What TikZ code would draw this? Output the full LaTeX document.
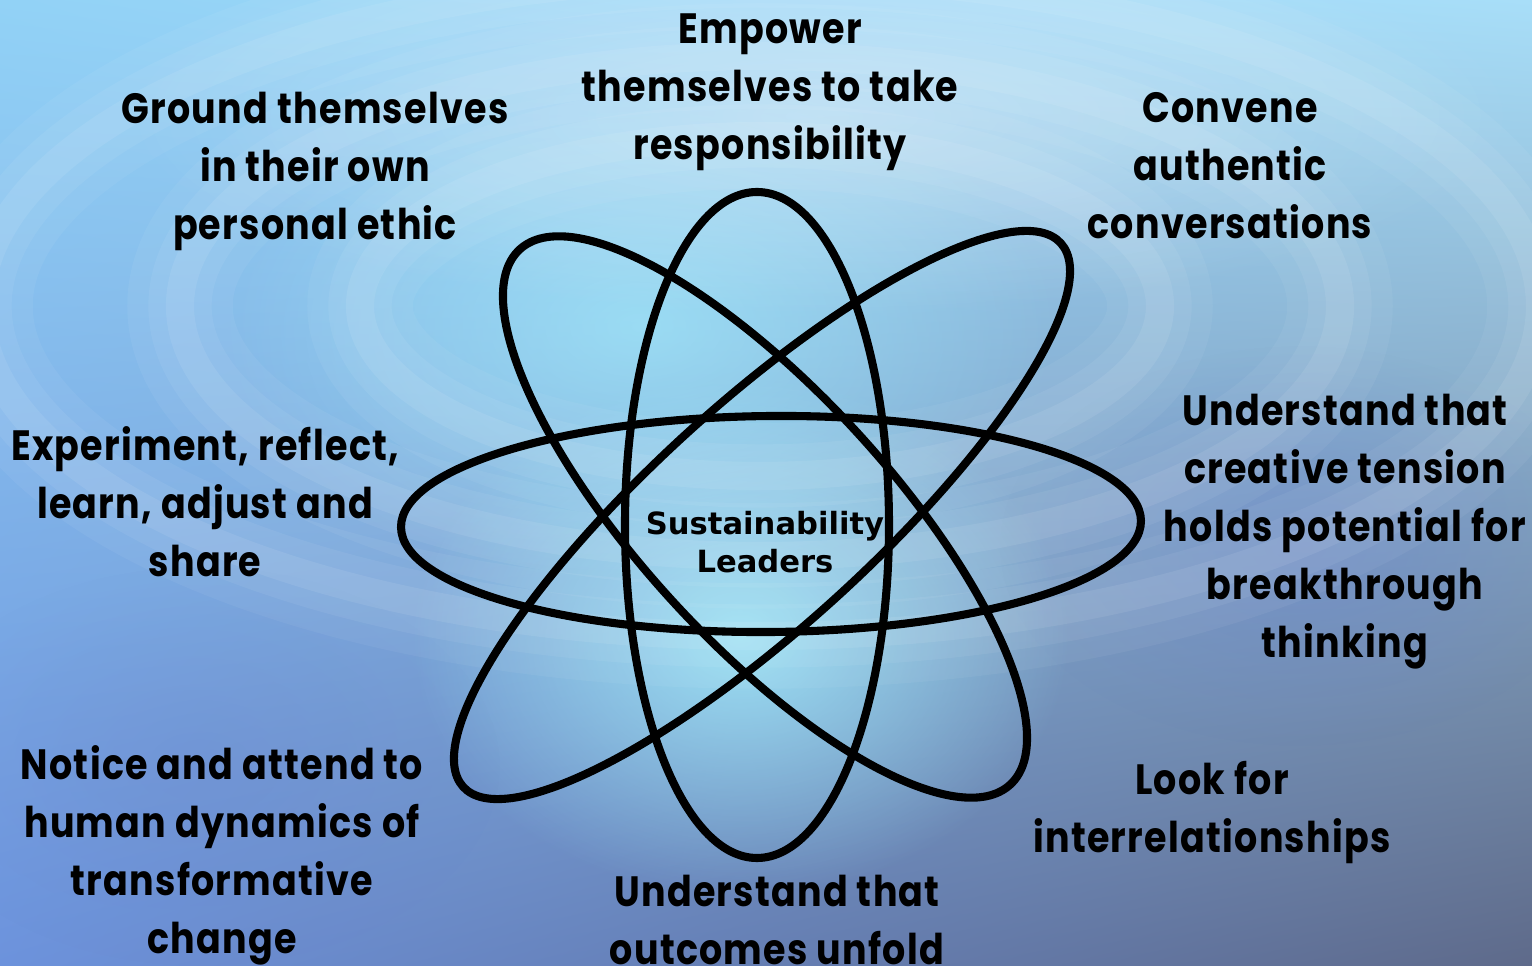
\documentclass[tikz,border=0pt]{standalone}
\usepackage{fontspec}
\usepackage{tikz}
\usetikzlibrary{fadings,shadings}

\newfontfamily\goalfont[FakeStretch=0.86, LetterSpace=3]{Poppins}
\newfontfamily\hubfont{DejaVu Sans}

\definecolor{skyTL}{HTML}{92D2F6}
\definecolor{skyTR}{HTML}{A8DEF8}
\definecolor{skyBL}{HTML}{6C92DC}
\definecolor{skyBR}{HTML}{5E6A8A}
\definecolor{glowcyan}{HTML}{A6F2FF}
\definecolor{deepblue}{HTML}{6C86CC}

\tikzfading[name=softglow, inner color=transparent!0, outer color=transparent!100]

\begin{document}
\begin{tikzpicture}[x=0.01cm, y=0.01cm,
    orbit/.style={line width=2.3pt, black},
    goal/.style={align=center, inner sep=0pt,
        font=\goalfont\bfseries\fontsize{12.05}{16.5}\selectfont},
    hub/.style={align=center, inner sep=0pt,
        font=\hubfont\bfseries\fontsize{8.7}{11}\selectfont}]
    \useasboundingbox (0,0) rectangle (1532,966);
    \clip (0,0) rectangle (1532,966);
    % water background
    \shade[upper left=skyTL, upper right=skyTR, lower left=skyBL, lower right=skyBR]
        (0,0) rectangle (1532,966);
    \fill[glowcyan, path fading=softglow, opacity=0.8] (740,330) ellipse (330 and 260);
    \fill[glowcyan, path fading=softglow, opacity=0.6] (640,640) ellipse (420 and 260);
    \fill[white, path fading=softglow, opacity=0.35] (820,850) ellipse (700 and 200);
    \fill[deepblue, path fading=softglow, opacity=0.5] (1300,420) ellipse (300 and 200);
    \fill[deepblue, path fading=softglow, opacity=0.3] (200,200) ellipse (300 and 200);
    % ripples
    \foreach \r/\s in {780/330, 580/250, 400/170} {
        \foreach \w/\o in {30/0.05, 18/0.06, 8/0.08} {
            \draw[white, line width=\w, opacity=\o] (760,660) ellipse ({\r} and {\s});
        }
    }
    % orbits
    \draw[orbit, rotate around={0.5:(771,442)}] (771,442) ellipse (370 and 108);
    \draw[orbit] (757,441) ellipse (132 and 333);
    \draw[orbit, rotate around={-47.5:(765,449)}] (765,449) ellipse (363 and 125);
    \draw[orbit, rotate around={42.3:(762,451)}] (762,451) ellipse (404 and 111);
    % labels
    \node[hub] (core) at (765,424) {Sustainability\\Leaders};
    \node[goal] (empower) at (770,874) {Empower\\themselves to take\\responsibility};
    \node[goal] (ground) at (315,795) {Ground themselves\\in their own\\personal ethic};
    \node[goal] (convene) at (1230,800) {Convene\\authentic\\conversations};
    \node[goal] (experiment) at (205,464) {Experiment, reflect,\\learn, adjust and\\share};
    \node[goal] (tension) at (1345,434) {Understand that\\creative tension\\holds potential for\\breakthrough\\thinking};
    \node[goal] (notice) at (222,111) {Notice and attend to\\human dynamics of\\transformative\\change};
    \node[goal] (lookfor) at (1212,153) {Look for\\interrelationships};
    \node[goal] (unfold) at (777,46) {Understand that\\outcomes unfold};
\end{tikzpicture}
\end{document}
